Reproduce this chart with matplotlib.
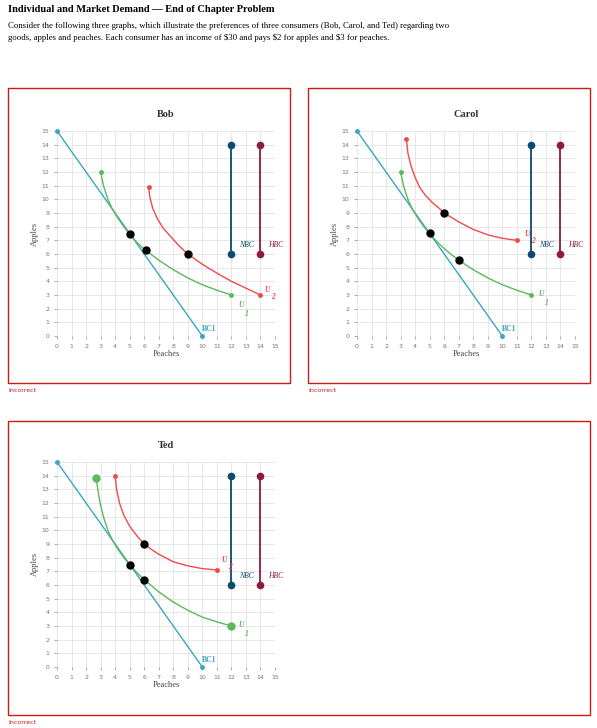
import matplotlib
matplotlib.use("Agg")
import matplotlib.pyplot as plt
from matplotlib.patches import Rectangle

W, H = 597, 728
names = ["Bob", "Carol", "Ted"]
bc_x = [0, 10]; bc_y = [15, 0]
nbc_x = [12, 12]; nbc_y = [6, 14]
hbc_x = [14, 14]; hbc_y = [6, 14]

u1 = {
 "Bob": ([3,3.2,3.5,3.8,4.2,4.6,5,5.5,6,6.5,7,8,9,10,11,12],[12,11,10,9.3,8.6,8,7.45,6.85,6.35,5.95,5.55,4.85,4.25,3.75,3.35,3]),
 "Carol": ([3,3.2,3.5,3.8,4.2,4.6,5,5.5,6,6.5,7,8,9,10,11,12],[12,11,10,9.3,8.6,8,7.5,6.9,6.4,5.95,5.55,4.85,4.25,3.75,3.35,3]),
 "Ted": ([2.7,2.85,3,3.25,3.5,3.8,4.2,4.6,5,5.5,6,6.5,7,8,9,10,11,12],[13.8,12.7,11.8,10.8,10,9.3,8.6,8,7.5,6.9,6.4,5.95,5.5,4.75,4.15,3.65,3.3,3]),
}
u2 = {
 "Bob": ([6.3,6.4,6.6,6.9,7.3,7.8,8.4,9,10,11,12,13,14],[10.9,10.1,9.3,8.6,7.9,7.3,6.6,6,5.25,4.6,4,3.5,3]),
 "Carol": ([3.4,3.5,3.7,4,4.3,4.7,5.2,5.7,6,7,8,9,10,11],[14.4,13.4,12.5,11.6,10.9,10.3,9.75,9.3,9,8.35,7.8,7.4,7.15,7]),
 "Ted": ([4,4.1,4.3,4.6,5,5.5,6,6.5,7,8,9,10,11],[14,13,12,11.1,10.3,9.6,9,8.6,8.25,7.7,7.4,7.2,7.1]),
}
pts = {
 "Bob": ([5,6.1,9],[7.5,6.3,6]),
 "Carol": ([5,6,7.05],[7.55,9,5.55]),
 "Ted": ([5,6,6],[7.45,6.35,9]),
}
u2lab = {"Bob": (14.3, 3.2), "Carol": (11.5, 7.3), "Ted": (11.3, 7.7)}
u1lab = {"Bob": (12.5, 2.1), "Carol": (12.5, 2.9), "Ted": (12.5, 2.9)}

fig = plt.figure(figsize=(W/100, H/100), dpi=100)
serif = ["Liberation Serif", "DejaVu Serif"]
fig.text(8/W, 1-10/H, "Individual and Market Demand — End of Chapter Problem", fontsize=7.5,
         fontweight="bold", family=serif, va="center")
fig.text(8/W, 1-32/H, "Consider the following three graphs, which illustrate the preferences of three consumers (Bob, Carol, and Ted) regarding two\ngoods, apples and peaches. Each consumer has an income of $30 and pays $2 for apples and $3 for peaches.",
         fontsize=6.3, family=serif, va="center", linespacing=1.6)

red = "#cc1a1a"
boxes = {"Bob": (8, 88, 290, 383), "Carol": (308, 88, 590, 383), "Ted": (8, 421, 590, 715)}
axpos = {"Bob": (57, 131), "Carol": (357, 131), "Ted": (57, 462)}
for n in names:
    x0, y0, x1, y1 = boxes[n]
    fig.patches.append(Rectangle((x0/W, 1-y1/H), (x1-x0)/W, (y1-y0)/H, transform=fig.transFigure,
                                 fill=False, edgecolor=red, lw=1))
    fig.text(x0/W, 1-(y1+7)/H, "Incorrect", color=red, fontsize=4.5, va="center")
    ax_l, ax_t = axpos[n]
    ax = fig.add_axes([ax_l/W, 1-(ax_t+205)/H, 218/W, 205/H])
    ax.set_xlim(0, 15); ax.set_ylim(0, 15)
    ax.set_xticks(range(16)); ax.set_yticks(range(16))
    ax.grid(color="#e3e3e3", lw=0.6)
    ax.set_axisbelow(True)
    for s in ax.spines.values(): s.set_visible(False)
    ax.tick_params(labelsize=4.5, colors="#888888", length=2, width=0.5, labelcolor="#777777")
    ax.set_xlabel("Peaches", family=serif, fontsize=6, color="#444444", labelpad=1)
    ax.set_ylabel("Apples", family=serif, fontsize=6, color="#444444", labelpad=2)
    ax.set_title(n, family=serif, fontsize=7.5, fontweight="bold", color="#333333", pad=10)
    ax.plot(bc_x, bc_y, color="#3aa6c0", lw=1, marker="o", ms=2.5, clip_on=False)
    ax.plot(*u1[n], color="#5cb85c", lw=1)
    ax.plot([u1[n][0][0], u1[n][0][-1]], [u1[n][1][0], u1[n][1][-1]], "o", color="#5cb85c",
            ms=5 if n == "Ted" else 2.5, ls="none")
    ax.plot(*u2[n], color="#ee4b4b", lw=1)
    ax.plot([u2[n][0][0], u2[n][0][-1]], [u2[n][1][0], u2[n][1][-1]], "o", color="#ee4b4b", ms=2.5, ls="none")
    ax.plot(nbc_x, nbc_y, color="#0d4a70", lw=1.3, marker="o", ms=4.5)
    ax.plot(hbc_x, hbc_y, color="#8c1c3c", lw=1.3, marker="o", ms=4.5)
    ax.plot(*pts[n], "o", color="black", ms=5, ls="none")
    ax.text(10, 0.4, "BC1", color="#3aa6c0", family=serif, fontsize=5.5, fontweight="bold")
    ax.text(12.5, 6.5, "NBC", color="#0d4a70", family=serif, fontsize=5.5, style="italic")
    ax.text(14.5, 6.5, "HBC", color="#8c1c3c", family=serif, fontsize=5.5, style="italic")
    ax.text(*u2lab[n], "U", color="#ee4b4b", family=serif, fontsize=5.5, style="italic", fontweight="bold")
    ax.text(u2lab[n][0]+0.45, u2lab[n][1]-0.5, "2", color="#ee4b4b", family=serif, fontsize=5.5, style="italic", fontweight="bold")
    ax.text(*u1lab[n], "U", color="#5cb85c", family=serif, fontsize=5.5, style="italic", fontweight="bold")
    ax.text(u1lab[n][0]+0.45, u1lab[n][1]-0.6, "1", color="#5cb85c", family=serif, fontsize=5.5, style="italic", fontweight="bold")

fig.savefig("out.png", dpi=100)
